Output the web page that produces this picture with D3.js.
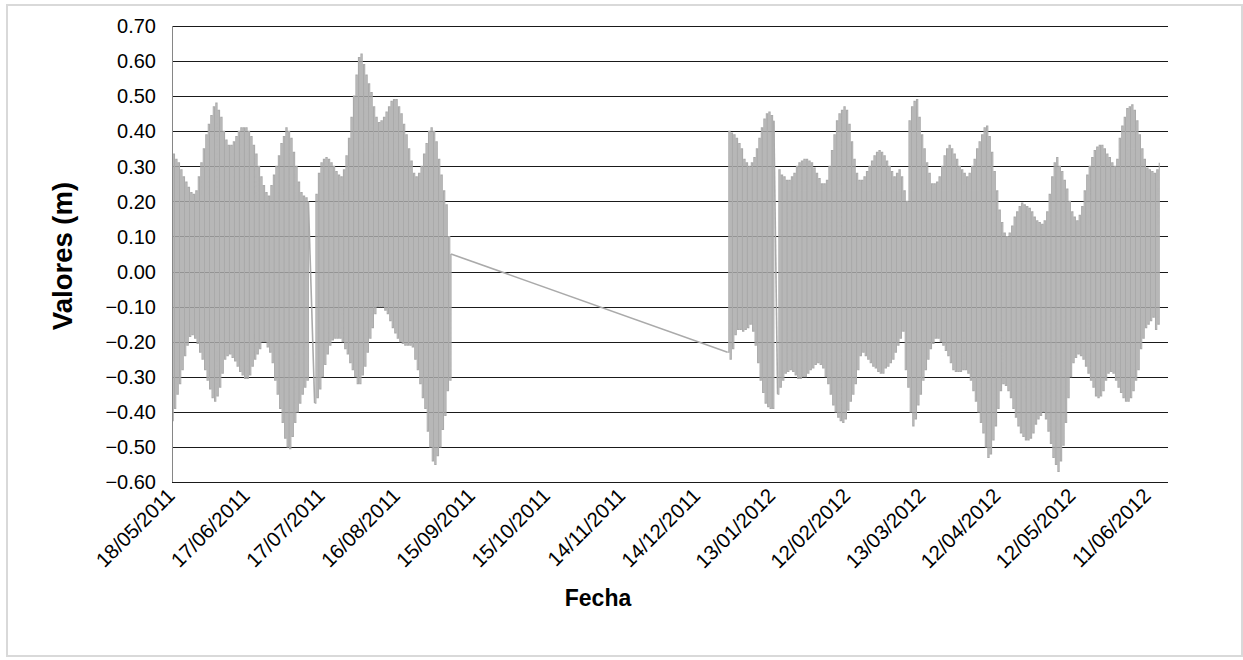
<!DOCTYPE html>
<html>
<head>
  <meta charset="utf-8">
  <script src="https://cdn.jsdelivr.net/npm/d3@7"></script>
  <style>
    body { margin: 0; background: #fff; }
    text { font-family: "Liberation Sans", Arial, sans-serif; fill: #000; }
  </style>
</head>
<body>
<script>
// water level readings (m): one low and one high per day
var seg1Start = "2011-05-18";
var seg1Low = [-0.425,-0.39,-0.35,-0.32,-0.28,-0.24,-0.21,-0.185,-0.18,-0.19,
  -0.205,-0.23,-0.25,-0.28,-0.31,-0.335,-0.36,-0.37,-0.355,-0.33,
  -0.29,-0.25,-0.24,-0.235,-0.245,-0.255,-0.27,-0.285,-0.295,-0.305,
  -0.305,-0.295,-0.27,-0.25,-0.235,-0.22,-0.2,-0.2,-0.215,-0.23,
  -0.26,-0.31,-0.35,-0.39,-0.43,-0.475,-0.5,-0.505,-0.47,-0.43,
  -0.4,-0.375,-0.35,-0.33,-0.31,null,null,-0.375,-0.36,-0.335,
  -0.3,-0.265,-0.235,-0.21,-0.195,-0.19,-0.19,-0.19,-0.2,-0.22,
  -0.235,-0.26,-0.28,-0.3,-0.32,-0.32,-0.295,-0.27,-0.23,-0.19,
  -0.16,-0.12,-0.1,-0.1,-0.1,-0.11,-0.12,-0.14,-0.16,-0.175,
  -0.19,-0.2,-0.205,-0.21,-0.21,-0.21,-0.215,-0.25,-0.28,-0.32,
  -0.36,-0.39,-0.455,-0.5,-0.54,-0.55,-0.525,-0.5,-0.45,-0.41,
  -0.34,-0.31];
var seg1High = [0.335,0.32,0.31,0.29,0.27,0.255,0.24,0.225,0.22,0.23,
  0.27,0.31,0.35,0.39,0.42,0.445,0.47,0.48,0.46,0.44,
  0.4,0.375,0.36,0.36,0.37,0.385,0.4,0.41,0.41,0.41,
  0.4,0.385,0.36,0.335,0.3,0.27,0.245,0.225,0.215,0.245,
  0.275,0.3,0.33,0.365,0.385,0.41,0.4,0.38,0.34,0.3,
  0.255,0.225,0.215,0.21,0.2,null,null,0.22,0.28,0.31,
  0.32,0.325,0.32,0.31,0.3,0.285,0.275,0.27,0.29,0.33,
  0.38,0.44,0.5,0.56,0.61,0.62,0.59,0.56,0.535,0.51,
  0.47,0.44,0.425,0.43,0.44,0.455,0.47,0.485,0.49,0.49,
  0.47,0.45,0.42,0.39,0.35,0.315,0.28,0.27,0.28,0.3,
  0.335,0.365,0.4,0.41,0.4,0.37,0.32,0.275,0.23,0.19,
  0.1,0.05];

var seg2Start = "2011-12-26";
var seg2Low = [-0.23,-0.25,-0.22,-0.18,-0.165,-0.165,-0.17,-0.165,-0.16,-0.15,
  -0.17,-0.21,-0.26,-0.31,-0.345,-0.375,-0.385,-0.39,-0.39,null,
  -0.35,-0.33,-0.31,-0.29,-0.285,-0.28,-0.285,-0.295,-0.305,-0.305,
  -0.3,-0.3,-0.29,-0.28,-0.275,-0.265,-0.26,-0.265,-0.275,-0.3,
  -0.32,-0.35,-0.38,-0.4,-0.415,-0.425,-0.43,-0.42,-0.395,-0.37,
  -0.35,-0.32,-0.28,-0.24,-0.23,-0.24,-0.25,-0.26,-0.27,-0.275,
  -0.285,-0.29,-0.29,-0.275,-0.27,-0.26,-0.25,-0.23,-0.21,-0.19,
  -0.17,-0.28,-0.33,-0.4,-0.44,-0.42,-0.38,-0.35,-0.31,-0.28,
  -0.25,-0.22,-0.205,-0.19,-0.19,-0.2,-0.21,-0.225,-0.24,-0.26,
  -0.28,-0.285,-0.285,-0.285,-0.28,-0.28,-0.29,-0.31,-0.34,-0.37,
  -0.4,-0.43,-0.46,-0.5,-0.53,-0.52,-0.48,-0.44,-0.39,-0.34,
  -0.32,-0.325,-0.34,-0.36,-0.39,-0.415,-0.44,-0.46,-0.47,-0.48,
  -0.48,-0.475,-0.46,-0.435,-0.42,-0.41,-0.4,-0.42,-0.455,-0.49,
  -0.53,-0.55,-0.57,-0.54,-0.495,-0.43,-0.36,-0.3,-0.26,-0.245,
  -0.235,-0.24,-0.25,-0.27,-0.29,-0.31,-0.33,-0.355,-0.36,-0.355,
  -0.34,-0.31,-0.29,-0.285,-0.29,-0.31,-0.33,-0.345,-0.36,-0.37,
  -0.37,-0.36,-0.34,-0.31,-0.28,-0.22,-0.19,-0.16,-0.15,-0.14,
  -0.13,-0.165,-0.15];
var seg2High = [0.4,0.395,0.39,0.38,0.365,0.35,0.32,0.31,0.3,0.31,
  0.325,0.35,0.38,0.41,0.435,0.45,0.455,0.445,0.43,null,
  0.29,0.275,0.27,0.26,0.26,0.27,0.28,0.3,0.31,0.315,
  0.32,0.32,0.315,0.31,0.295,0.28,0.265,0.25,0.25,0.26,
  0.3,0.345,0.39,0.43,0.45,0.46,0.47,0.46,0.42,0.37,
  0.32,0.28,0.26,0.26,0.27,0.285,0.3,0.315,0.33,0.34,
  0.345,0.34,0.33,0.315,0.3,0.285,0.27,0.28,0.29,0.27,
  0.23,0.2,0.43,0.47,0.485,0.49,0.44,0.39,0.35,0.31,
  0.28,0.25,0.25,0.255,0.27,0.3,0.33,0.35,0.36,0.35,
  0.335,0.32,0.3,0.29,0.28,0.27,0.28,0.3,0.32,0.35,
  0.37,0.39,0.41,0.415,0.385,0.34,0.285,0.23,0.175,0.14,
  0.11,0.1,0.11,0.13,0.155,0.17,0.185,0.195,0.19,0.185,
  0.18,0.17,0.155,0.145,0.14,0.135,0.145,0.17,0.22,0.27,
  0.31,0.325,0.3,0.285,0.26,0.235,0.2,0.17,0.155,0.145,
  0.16,0.185,0.23,0.275,0.3,0.325,0.345,0.355,0.36,0.36,
  0.35,0.335,0.325,0.31,0.3,0.32,0.38,0.415,0.44,0.465,
  0.47,0.475,0.46,0.43,0.39,0.35,0.32,0.295,0.29,0.285,
  0.28,0.29,0.31];

var xDomain = ["2011-05-18", "2012-06-19"];
var xTickDates = ["2011-05-18","2011-06-17","2011-07-17","2011-08-16","2011-09-15",
  "2011-10-15","2011-11-14","2011-12-14","2012-01-13","2012-02-12",
  "2012-03-13","2012-04-12","2012-05-12","2012-06-11"];
var yTicks = [-0.6,-0.5,-0.4,-0.3,-0.2,-0.1,0,0.1,0.2,0.3,0.4,0.5,0.6,0.7];

var W = 1243, H = 660;
var plotL = 172, plotR = 1168, plotT = 26, plotB = 482;
var parse = d3.utcParse("%Y-%m-%d");
var fmt = d3.utcFormat("%d/%m/%Y");
var DAY = 864e5;

var svg = d3.select("body").append("svg")
  .attr("width", W).attr("height", H);

// chart border
svg.append("rect")
  .attr("x", 7).attr("y", 5).attr("width", 1235).attr("height", 651)
  .attr("fill", "none").attr("stroke", "#d9d9d9").attr("stroke-width", 2);

var x = d3.scaleUtc().domain(xDomain.map(parse)).range([plotL, plotR]);
var y = d3.scaleLinear().domain([-0.6, 0.7]).range([plotB, plotT]);

// gridlines
svg.append("g").selectAll("line")
  .data(yTicks.filter(function(v) { return v > -0.6; }))
  .enter().append("line")
  .attr("x1", plotL).attr("x2", plotR)
  .attr("y1", function(d) { return Math.round(y(d)) + 0.5; })
  .attr("y2", function(d) { return Math.round(y(d)) + 0.5; })
  .attr("stroke", "#1a1a1a").attr("stroke-width", 1);

// split each segment into runs of consecutive days:
// low at the start of the day, high half a day later
var runs = [];
function addRuns(start, low, high) {
  var t0 = parse(start).getTime(), cur = null;
  low.forEach(function(v, i) {
    if (v == null) { cur = null; return; }
    if (!cur) { cur = []; runs.push(cur); }
    cur.push({ t: new Date(t0 + i * DAY), v: v });
    cur.push({ t: new Date(t0 + i * DAY + DAY / 2), v: high[i] });
  });
}
addRuns(seg1Start, seg1Low, seg1High);
addRuns(seg2Start, seg2Low, seg2High);

// straight links across missing days
var links = [];
for (var i = 1; i < runs.length; i++) {
  links.push([runs[i - 1][runs[i - 1].length - 1], runs[i][0]]);
}

var stepLine = d3.line()
  .curve(d3.curveStepAfter)
  .x(function(d) { return x(d.t); })
  .y(function(d) { return y(d.v); });
var straight = d3.line()
  .x(function(d) { return x(d.t); })
  .y(function(d) { return y(d.v); });

var series = svg.append("g")
  .attr("fill", "none")
  .attr("stroke", "#aaaaaa");

series.selectAll("path.run")
  .data(runs)
  .enter().append("path")
  .attr("class", "run")
  .attr("d", stepLine)
  .attr("stroke-width", 1.1);

series.selectAll("path.link")
  .data(links)
  .enter().append("path")
  .attr("class", "link")
  .attr("d", straight)
  .attr("stroke-width", 1.6);

// axes
svg.append("line")
  .attr("x1", plotL + 0.5).attr("x2", plotL + 0.5)
  .attr("y1", plotT).attr("y2", plotB)
  .attr("stroke", "#868686");
svg.append("line")
  .attr("x1", plotL).attr("x2", plotR)
  .attr("y1", plotB + 0.5).attr("y2", plotB + 0.5)
  .attr("stroke", "#1a1a1a");

// y labels
svg.append("g").selectAll("text")
  .data(yTicks)
  .enter().append("text")
  .attr("x", 156)
  .attr("y", function(d) { return y(d); })
  .attr("dy", "0.36em")
  .attr("text-anchor", "end")
  .style("font-size", "20px")
  .text(function(d) { return d3.format(".2f")(d); });

// x labels
svg.append("g").selectAll("text")
  .data(xTickDates)
  .enter().append("text")
  .attr("transform", function(d) {
    return "translate(" + (x(parse(d)) + 4) + "," + 497 + ") rotate(-45)";
  })
  .attr("text-anchor", "end")
  .style("font-size", "20.5px")
  .text(function(d) { return fmt(parse(d)); });

// axis titles
svg.append("text")
  .attr("x", 598).attr("y", 606)
  .attr("text-anchor", "middle")
  .style("font-size", "23px").style("font-weight", "bold")
  .text("Fecha");

svg.append("text")
  .attr("transform", "translate(72,256) rotate(-90)")
  .attr("text-anchor", "middle")
  .style("font-size", "27.5px").style("font-weight", "bold")
  .text("Valores (m)");
</script>
</body>
</html>
